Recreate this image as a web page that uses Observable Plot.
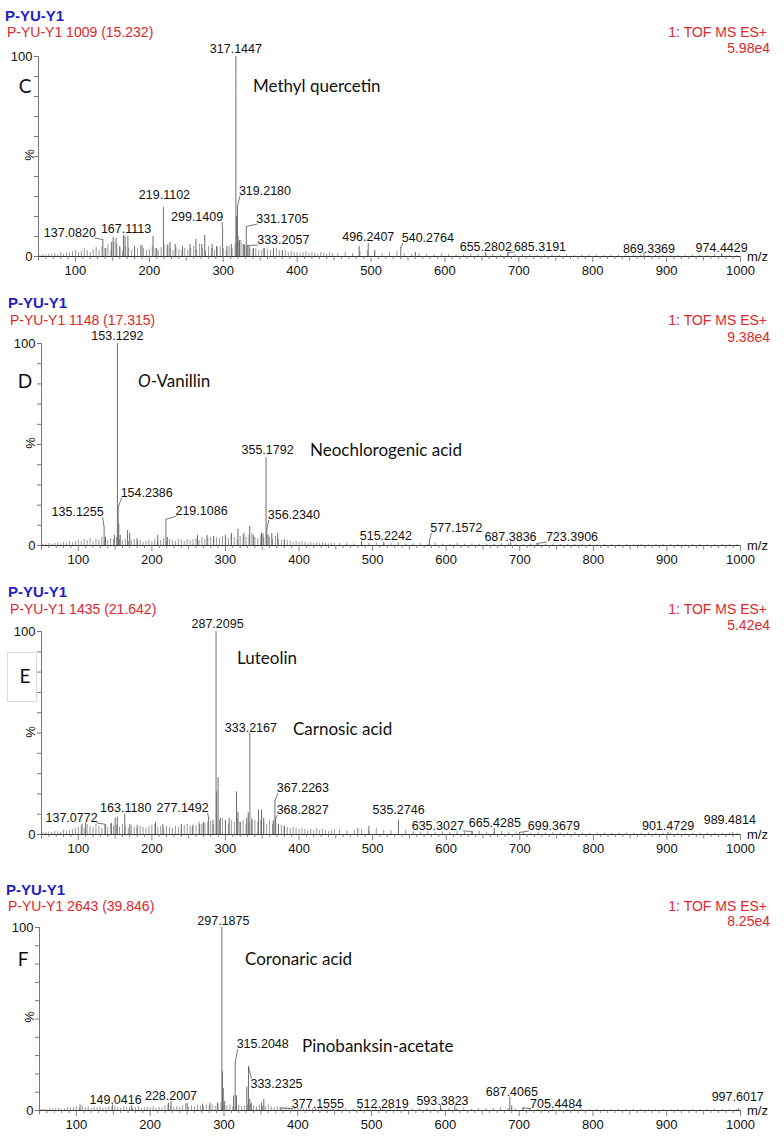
<!DOCTYPE html>
<html><head><meta charset="utf-8">
<script src="https://cdn.jsdelivr.net/npm/d3@7"></script>
<script src="https://cdn.jsdelivr.net/npm/@observablehq/plot@0.6"></script>
<style>
html,body{margin:0;padding:0;background:#fff;overflow:hidden}
#root{position:relative;width:784px;height:1141px;font-family:"Liberation Sans",Arial,sans-serif}
.abs{position:absolute;white-space:nowrap;line-height:1;transform:translateY(-50%);z-index:2}
.blue{color:#1f1fc8;font-weight:bold;font-size:15px}
.red{color:#e3262b;font-size:14px}
.right{transform:translate(-100%,-50%)}
.ann{font-family:Lato,"Open Sans",sans-serif;font-size:17px;color:#111}
.letter{font-family:Lato,"Open Sans",sans-serif;font-size:19px;color:#111;transform:translate(-50%,-50%)}
.pct{font-size:13px;color:#111;transform:translate(-50%,-50%) rotate(-90deg)}
.box{position:absolute;border:1px solid #ddd;background:#fff;z-index:1}
svg{position:absolute;left:0}
</style></head><body><div id="root"></div>
<script>
// ---------- data ----------
const xMajorTicks = [100,200,300,400,500,600,700,800,900,1000];
const yTickLabels = [0,100];
const noiseLowMz = d3.range(52, 449, 4);   // bins 52..448
const noiseHighMz = d3.range(455, 996, 10); // bins 455..995

// Panel C
const labelsC = [[317.1447,100,"317.1447"],[319.2180,25,"319.2180"],[219.1102,24.5,"219.1102"],[299.1409,13,"299.1409"],[331.1705,15,"331.1705"],[333.2057,5.5,"333.2057"],[167.1113,10,"167.1113"],[137.0820,8.5,"137.0820"],[496.2407,6.5,"496.2407"],[540.2764,4.5,"540.2764"],[655.2802,2,"655.2802"],[685.3191,2,"685.3191"],[869.3369,1.5,"869.3369"],[974.4429,1.5,"974.4429"]];
const peaksC = [[141,4],[149,7],[151,9.5],[155,9],[160,5],[165,10.5],[171,10],[180,5],[190,5.5],[205,10],[210,4],[225,6],[228,7],[235,6],[245,5],[255,6],[263,8.5],[271,6],[275,10.5],[285,6],[291,5],[305,5],[311,6],[318,20],[320,10],[322,8],[327,6],[329,5.5],[335,5],[341,4],[355,4],[368,4],[380,3],[484,5],[505,3],[560,2]];
const noiseLowC = [0.5,1,0.8,1.2,1,1.5,1,2,1.2,1.8,1.5,2.5, 3,2,2.5,4,3,2,3.5,4.5,3,5,4,6,3, 7,6,4,3,5,4,3,2.5,4,5.5,4,3, 3.5,5,4,3,4.5,6,5,4,3,4.5,3.5,3,4, 3,4,5,3.5,6,4,3,5,4,3,4.5,5, 4,3,5,4,6,7,8,6,5,4,3.5,4,3, 3,4,3.5,3,2.5,4,3,2.5,3,2,2.5,2, 2,1.5,2,2.5,1.5,2,1.5,1,2,1.5,1,2,1.5];
const noiseHighC = [1.5,2,1.5,2.5,3,2,1.5,2,2.5,1.5, 1,1.5,1,1,1.5,1,0.8,1,1.2,1, 1.5,1,0.8,1.5,1,0.8,1,0.6,0.8,1, 0.6,0.8,0.5,0.7,0.6,0.8,0.5,0.6,0.7,0.5, 0.6,0.8,0.5,0.6,0.7,0.5,0.6,0.5,0.7,0.6, 0.5,0.8,0.6,0.5,0.6];

// Panel D
const labelsD = [[153.1292,100,"153.1292"],[154.2386,19,"154.2386"],[135.1255,9,"135.1255"],[219.1086,13,"219.1086"],[355.1792,43.5,"355.1792"],[356.2340,8.4,"356.2340"],[515.2242,1.5,"515.2242"],[577.1572,2,"577.1572"],[687.3836,1.5,"687.3836"],[723.3906,1,"723.3906"]];
const peaksD = [[137,4],[149,5],[155,10.7],[157,5],[167,7.4],[170,6],[180,3.5],[208,5],[221,4],[262,5],[275,5],[284,4.5],[300,5],[308,6],[317,8],[325,6],[333,9.4],[338,5],[349,6],[351,5.8],[358,5],[363,6],[371,6],[380,3],[485,2]];
const noiseLowD = [0.5,0.8,1,0.6,1,1.2,0.8,1.5,1,2,1.5,2, 2.5,2,3,2.5,3.5,2,3,2.5,4,3,2.5,3.5,3, 4,3,2.5,3,2,2.5,3,2,2.5,1.5,2,2.5, 2,3,2,2.5,3.5,2,3,2.5,2,3,2.5,2,3, 2.5,3,3.5,2.5,4,3,3.5,4,3,4,3.5,4.5, 4,3.5,5,4,3,4.5,5,4,5,6,4,3.5,5, 4,5.5,4,3,4.5,3,2.5,2,2.5,2,1.5,2, 1.5,2,1.5,1,1.5,1,1.2,1,1.5,1,0.8,1.2,1];
const noiseHighD = [1,1.2,0.8,1.5,1,1.2,0.8,1,1.5,0.8, 0.8,1,0.6,1.2,0.8,0.6,1,0.7,0.8,0.6, 0.7,0.6,1,0.8,0.5,0.6,0.8,0.5,0.6,0.5, 0.5,0.6,0.4,0.5,0.6,0.4,0.5,0.4,0.5,0.4, 0.4,0.5,0.4,0.5,0.4,0.5,0.4,0.3,0.5,0.4, 0.4,0.3,0.5,0.4,0.4];

// Panel E
const labelsE = [[287.2095,100,"287.2095"],[333.2167,50,"333.2167"],[367.2263,16.7,"367.2263"],[368.2827,8,"368.2827"],[277.1492,8,"277.1492"],[163.1180,10,"163.1180"],[137.0772,5,"137.0772"],[535.2746,7,"535.2746"],[635.3027,1.5,"635.3027"],[665.4285,3,"665.4285"],[699.3679,1,"699.3679"],[901.4729,1,"901.4729"],[989.4814,1,"989.4814"]];
const peaksE = [[105,5],[110,6],[145,5.5],[150,8],[153,8.5],[170,5],[180,4.5],[205,6],[215,5],[240,5],[255,4],[265,5],[270,6],[283,7],[288,21],[290,28],[293,8],[300,7],[305,8],[315,21],[317,11],[320,6],[329,8],[331,10.6],[336,7],[345,12],[349,12],[352,8],[365,6.7],[372,5],[380,4],[480,3],[495,4]];
const noiseLowE = [0.8,1,1.2,1,1.5,1.2,1,2,1.5,2,2.5,3, 3.5,4,3,5,4,3.5,5,4,3,4.5,3.5,5,4, 4.5,3.5,5,4,3,4.5,3.5,3,4,3.5,3,4, 4.5,5,3.5,4,3,4,3.5,3,4,3.5,3,4.5,5, 4,5,4.5,6,5,5.5,6,6.5,5,6,7,8, 6,5,7,6,8,6,7,5,6,8,7,6,7, 6,5,7,5,6,4,4.5,4,3.5,3,3.5,3, 2.5,3,2.5,2,2.5,2,3,2,2.5,2,1.5,2,2.5];
const noiseHighE = [2,1.5,2,2.5,1.5,3,2,2,1.5,2, 1.5,1.2,1.5,1,1.2,1,1.5,1.2,1,1.5, 1.2,1,1.5,1,1.2,1,0.8,1,0.8,1, 0.8,0.7,1,0.8,0.6,0.8,0.7,0.6,0.8,0.7, 0.7,0.6,0.8,0.7,0.6,0.8,0.6,0.7,0.6,0.7, 0.6,0.7,0.6,0.8,0.6];

// Panel F
const labelsF = [[297.1875,100,"297.1875"],[315.2048,26,"315.2048"],[333.2325,24,"333.2325"],[149.0416,3,"149.0416"],[228.2007,5,"228.2007"],[377.1555,1.5,"377.1555"],[512.2819,1,"512.2819"],[593.3823,3,"593.3823"],[687.4065,7.3,"687.4065"],[705.4484,1.5,"705.4484"],[997.6017,1,"997.6017"]];
const peaksF = [[105,3],[175,2.5],[225,4],[250,4],[271,3.5],[281,4],[291,4],[298,21],[299,12],[301,5],[313,8],[317,8],[331,12.8],[335,6],[337,4],[351,4],[354,6],[613,2.5],[690,2.5]];
const noiseLowF = [0.5,0.8,0.6,1,0.8,1,1.2,0.8,1,1.5,1.2,1.5, 2,1.5,2.5,1.5,2,1.2,1.8,1.5,2,1.2,1.5,2,1.8, 2,1.5,1.2,2,1.5,1.8,1.2,1.5,2,1.2,1.5,1.8, 1.5,2,1.2,1.8,1.5,2.5,3,2,1.5,2,1.8,2.5,3.5, 2,2.5,2,3,2.5,2,3,2.5,3,2.5,3.5,4, 3,2.5,3,2,2.5,3,2,2.5,3,3.5,2.5,2,3, 2.5,2,3,2,1.5,2,1.5,1.2,1.5,1,1.2,1, 1,1.2,0.8,1,0.8,1,1.2,0.8,1,0.8,1,0.8,1];
const noiseHighF = [0.8,1,0.8,1.2,0.8,1,0.8,1,0.8,1, 0.8,1,1.2,0.8,1,1.2,1,1.5,0.8,1, 1,1.2,1.5,1,0.8,1.2,0.8,0.6,0.8,0.6, 0.5,0.6,0.5,0.6,0.5,0.6,0.5,0.4,0.5,0.4, 0.5,0.4,0.5,0.4,0.5,0.4,0.5,0.4,0.4,0.5, 0.4,0.5,0.4,0.5,0.6];

// ---------- layout (pixels) ----------
// label offsets: [dx, dy, leader] of text baseline-centre from the peak top
const offC = [[0,-4,0],[27.5,-11.5,1],[1,-9,0],[-25.5,-9.5,1],[36,-3.5,1],[35.5,-1.5,1],[1,-4,0],[-33,-2.5,1],[0,-3,0],[27,-5.5,1],[0,-1.5,0],[32,-1.5,1],[5,-1,0],[0,-1.5,0]];
const offD = [[0,-4,0],[28.5,-10,1],[-26.5,-11,1],[35.6,-4,1],[1.5,-3.5,0],[27,-9.5,1],[2,-2.5,0],[27,-9.5,1],[0,-1.5,0],[35,-2.5,1]];
const offE = [[1.5,-4,0],[1,-1,0],[28,-8.5,1],[27,-4.3,1],[-26,-6.3,1],[1,-2,0],[-34,-2.4,1],[0,-6.3,0],[-34.4,-1.5,1],[0.5,-1.5,0],[34.5,-2.5,1],[0,-2.5,0],[-3,-8,0]];
const offF = [[1.5,-3,0],[27.5,-15,1],[28,21,1],[3,-1,0],[0,-1,0],[37,0,1],[2,-0.5,0],[2,0,0],[2,-1,0],[33,0,1],[-1,-8,0]];

const panels = [
  {sub:"P-YU-Y1 1009 (15.232)", inten:"5.98e4", top:40, T:16, H:240, B:24, L:38,
   labels:labelsC, peaks:peaksC, nl:noiseLowC, nh:noiseHighC, off:offC,
   head:{by:15,bx:5,ry:32,rx:7,ty:32,iy:48}, letter:{t:"C",x:25,y:85}, pct:{x:29,y:155},
   ann:[{t:"Methyl quercetin",x:253,y:85}]},
  {sub:"P-YU-Y1 1148 (17.315)", inten:"9.38e4", top:328, T:15, H:240, B:23, L:41,
   labels:labelsD, peaks:peaksD, nl:noiseLowD, nh:noiseHighD, off:offD,
   head:{by:302,bx:8,ry:320,rx:10,ty:320,iy:337}, letter:{t:"D",x:25,y:380}, pct:{x:30,y:443},
   ann:[{t:"<i>O</i>-Vanillin",x:138,y:380},{t:"Neochlorogenic acid",x:310,y:449}]},
  {sub:"P-YU-Y1 1435 (21.642)", inten:"5.42e4", top:614, T:17, H:245, B:25, L:41,
   labels:labelsE, peaks:peaksE, nl:noiseLowE, nh:noiseHighE, off:offE,
   head:{by:591,bx:8,ry:609,rx:10,ty:609,iy:625}, letter:{t:"E",x:25,y:675,box:[7,652,28,48]}, pct:{x:30,y:732},
   ann:[{t:"Luteolin",x:237,y:657},{t:"Carnosic acid",x:293,y:728}]},
  {sub:"P-YU-Y1 2643 (39.846)", inten:"8.25e4", top:910, T:17, H:231, B:31, L:39,
   labels:labelsF, peaks:peaksF, nl:noiseLowF, nh:noiseHighF, off:offF,
   head:{by:889,bx:6,ry:906,rx:8,ty:906,iy:921}, letter:{t:"F",x:23,y:958}, pct:{x:29,y:1017},
   ann:[{t:"Coronaric acid",x:245,y:958},{t:"Pinobanksin-acetate",x:302,y:1045}]}
];

const root = document.getElementById("root");
function addDiv(cls, html, x, y, extra) {
  const d = document.createElement("div");
  d.className = "abs " + cls;
  d.innerHTML = html;
  d.style.left = x + "px"; d.style.top = y + "px";
  if (extra) Object.assign(d.style, extra);
  root.appendChild(d);
  return d;
}

const X1 = 740; // pixel of m/z 1000
for (const p of panels) {
  const xs = d3.scaleLinear([50, 1000], [p.L, X1]);
  const ys = d3.scaleLinear([0, 100], [p.H - p.B, p.T]);
  const noise = noiseLowMz.map((m, i) => ({mz: m, v: p.nl[i]}))
    .concat(noiseHighMz.map((m, i) => ({mz: m, v: p.nh[i]})));
  const lab = p.labels.map((d, i) => {
    const [dx, dy, leader] = p.off[i];
    const px = xs(d[0]), py = ys(d[1]);
    const o = {mz: d[0], v: d[1], text: d[2], tx: xs.invert(px + dx), ty: ys.invert(py + dy), leader};
    if (leader) {
      const w = 52;
      const ex = px + dx + (dx > 0 ? -w / 2 + 1 : w / 2 - 1);
      const ey = dy <= 0 ? py + dy + 1 : py + dy - 9;
      o.lx = xs.invert(ex); o.ly = ys.invert(ey);
    }
    return o;
  });
  const minor = d3.range(50, 1001, 10);
  const tickLen = d => (d % 100 === 0 ? 6 : d % 50 === 0 ? 4.5 : 3);

  const svg = Plot.plot({
    width: 784, height: p.H,
    marginLeft: p.L, marginRight: 784 - X1, marginTop: p.T, marginBottom: p.B,
    x: {domain: [50, 1000], axis: null},
    y: {domain: [0, 100], axis: null},
    style: {background: "transparent", overflow: "visible", fontFamily: "'Liberation Sans', Arial, sans-serif"},
    marks: [
      Plot.ruleX(noise, {x: "mz", y1: 0, y2: "v", stroke: "#8c8c8c", strokeWidth: 0.9}),
      Plot.ruleX(p.peaks, {x: d => d[0], y1: 0, y2: d => d[1], stroke: "#6a6a6a", strokeWidth: 1}),
      Plot.ruleX(lab, {x: "mz", y1: 0, y2: "v", stroke: "#707070", strokeWidth: 1}),
      Plot.ruleY([0], {x1: 50, x2: 1000, stroke: "#333", strokeWidth: 1.2}),
      Plot.ruleX([50], {y1: 0, y2: 100, stroke: "#777"}),
      Plot.ruleY(d3.range(0, 101, 10), {y: d => d, x1: 50, x2: xs.invert(p.L - 4), stroke: "#777"}),
      Plot.ruleX(minor, {x: d => d, y1: 0, y2: d => ys.invert(ys(0) + tickLen(d)), stroke: "#666", strokeWidth: 0.8}),
      Plot.text(xMajorTicks, {x: d => d, y: 0, dy: 14, text: d => String(d), fontSize: 13, fill: "#111"}),
      Plot.text(yTickLabels, {x: 50, y: d => d, dx: -6, textAnchor: "end", text: d => String(d), fontSize: 13, fill: "#111"}),
      Plot.text(["m/z"], {x: 1000, y: 0, dx: 17, dy: 0, text: d => d, fontSize: 13, fill: "#111"}),
      Plot.link(lab.filter(d => d.leader), {x1: "mz", y1: "v", x2: "lx", y2: "ly", stroke: "#555", strokeWidth: 0.8}),
      Plot.text(lab, {x: "tx", y: "ty", text: "text", lineAnchor: "bottom", fontSize: 12.5, fill: "#111"})
    ]
  });
  svg.style.position = "absolute";
  svg.style.top = p.top + "px";
  svg.style.left = "0px";
  root.appendChild(svg);

  addDiv("blue", "P-YU-Y1", p.head.bx, p.head.by);
  addDiv("red", p.sub, p.head.rx, p.head.ry);
  addDiv("red right", "1: TOF MS ES+", 767, p.head.ty);
  addDiv("red right", p.inten, 770, p.head.iy);
  if (p.letter.box) {
    const b = document.createElement("div");
    b.className = "box";
    const [bx, by, bw, bh] = p.letter.box;
    Object.assign(b.style, {left: bx + "px", top: by + "px", width: bw + "px", height: bh + "px"});
    root.appendChild(b);
  }
  addDiv("letter", p.letter.t, p.letter.x, p.letter.y);
  addDiv("pct", "%", p.pct.x, p.pct.y);
  for (const a of p.ann) addDiv("ann", a.t, a.x, a.y);
}
</script></body></html>
